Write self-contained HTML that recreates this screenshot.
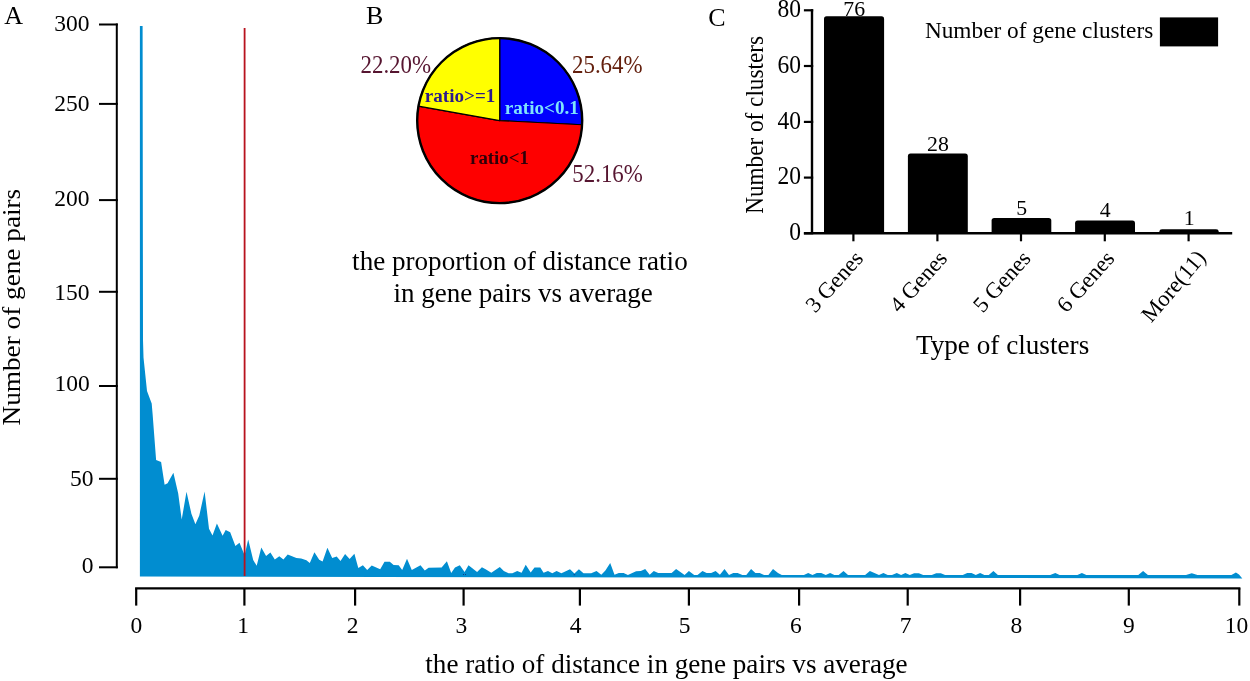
<!DOCTYPE html>
<html lang="en"><head><meta charset="utf-8"><title>Figure: distance ratio in gene pairs and gene clusters</title>
<style>html,body{margin:0;padding:0;background:#fff;}body{width:1250px;height:681px;overflow:hidden;}svg{display:block;will-change:transform;}text{font-family:"Liberation Serif", serif;fill:#000;}</style></head><body>
<svg width="1250" height="681" viewBox="0 0 1250 681">
<rect width="1250" height="681" fill="#fff"/>
<g id="panelA">
<text x="4.3" y="23.9" font-size="26">A</text>
<polygon points="139.9,576.5 139.9,26.0 142.6,26.0 143.0,340.0 143.5,357.6 147.0,391.1 151.7,403.4 152.6,414.0 156.1,460.0 161.1,462.1 164.6,484.7 167.6,483.3 173.4,472.7 178.2,493.5 181.7,519.6 186.5,491.7 191.4,513.7 195.4,524.3 199.3,515.5 204.6,491.4 209.0,528.7 212.5,535.4 216.9,523.4 222.6,535.8 225.7,530.1 230.2,532.2 235.4,546.0 239.5,542.8 244.6,555.2 248.2,539.4 253.2,560.0 256.7,565.8 261.3,547.6 266.1,555.9 270.4,552.4 274.8,559.4 279.3,556.2 283.4,559.4 287.7,554.5 296.4,558.1 301.2,558.4 306.4,560.2 309.8,562.9 314.4,552.2 319.2,559.8 322.6,561.5 327.4,547.8 332.2,558.1 336.7,556.4 340.5,561.0 345.1,554.1 349.6,559.1 354.4,553.8 358.3,568.0 362.9,565.3 367.2,570.1 371.7,565.5 380.2,569.2 384.5,561.7 389.8,561.7 393.6,565.0 398.7,565.3 402.2,570.1 407.0,558.8 411.8,570.1 420.5,565.3 424.8,570.6 428.6,567.7 441.6,567.5 446.9,561.3 451.2,573.0 455.0,567.5 459.8,565.3 464.6,572.0 468.5,565.3 477.1,572.0 481.9,567.2 485.6,569.2 491.3,572.8 499.8,567.0 503.8,571.1 508.6,573.2 512.4,573.2 517.2,571.1 521.6,572.8 525.7,564.8 530.7,572.5 534.5,567.4 540.3,567.4 543.6,572.8 548.0,571.1 552.3,573.2 556.6,571.1 561.4,573.2 570.0,569.2 574.4,573.5 578.9,569.2 583.5,573.2 591.2,573.2 596.5,571.1 601.3,574.7 605.4,570.6 610.2,562.9 614.5,574.7 618.8,573.0 623.6,573.0 627.9,574.9 636.1,571.3 640.9,570.9 645.2,569.0 649.7,574.7 653.8,571.1 658.2,573.0 671.6,573.0 676.1,569.0 684.6,574.9 688.9,570.9 694.2,574.9 697.5,574.9 702.5,571.1 706.6,573.0 711.2,573.0 715.6,571.1 719.9,574.7 724.5,568.9 729.0,574.9 733.3,573.0 737.6,573.0 742.4,574.9 746.3,574.9 751.1,568.9 755.4,573.0 759.7,573.0 764.0,574.9 768.4,574.9 773.0,568.9 778.0,573.0 781.8,574.9 803.9,574.9 808.2,573.0 812.5,574.9 816.8,573.0 821.2,573.0 825.8,574.9 830.1,573.0 834.4,574.9 838.7,574.9 843.5,571.1 848.0,574.9 865.1,574.9 869.9,571.1 879.0,574.9 883.4,573.0 887.7,574.9 892.0,574.9 896.8,573.0 901.1,574.9 905.4,573.0 909.8,574.9 914.1,573.2 918.9,573.2 923.2,574.9 931.8,574.9 936.2,573.2 940.8,573.2 945.1,574.9 962.8,574.9 967.2,573.0 971.5,573.0 975.8,574.9 980.1,573.0 984.4,574.9 988.8,574.9 993.4,571.1 997.9,574.9 1050.2,574.9 1055.3,573.0 1059.6,574.9 1077.4,574.9 1081.9,573.0 1086.3,574.9 1138.3,574.9 1143.1,571.1 1147.9,574.9 1186.0,574.9 1191.8,573.3 1197.5,574.9 1231.4,574.9 1235.9,572.4 1239.0,574.6 1242.3,578.4 700.0,577.5" fill="#018dd0"/>
<line x1="244.6" y1="28.0" x2="244.6" y2="576" stroke="#b8131e" stroke-width="1.8"/>
<path d="M463,574h1v1h-1z M465,574h1v1h-1z M573.6,574.2h1.6v1h-1.6z" fill="#0a3f86"/>
<path d="M116.8,23.5 V568.3" stroke="#000" stroke-width="2.0" fill="none"/>
<line x1="99.0" y1="24.5" x2="117.8" y2="24.5" stroke="#000" stroke-width="2.0"/>
<text x="89.5" y="31.2" font-size="23.5" text-anchor="end">300</text>
<line x1="99.0" y1="103.9" x2="117.8" y2="103.9" stroke="#000" stroke-width="2.0"/>
<text x="89.5" y="111.1" font-size="23.5" text-anchor="end">250</text>
<line x1="99.0" y1="200.1" x2="117.8" y2="200.1" stroke="#000" stroke-width="2.0"/>
<text x="89.5" y="206.1" font-size="23.5" text-anchor="end">200</text>
<line x1="99.0" y1="291.8" x2="117.8" y2="291.8" stroke="#000" stroke-width="2.0"/>
<text x="89.5" y="299.6" font-size="23.5" text-anchor="end">150</text>
<line x1="99.0" y1="386.0" x2="117.8" y2="386.0" stroke="#000" stroke-width="2.0"/>
<text x="89.8" y="390.7" font-size="23.5" text-anchor="end">100</text>
<line x1="99.0" y1="478.8" x2="117.8" y2="478.8" stroke="#000" stroke-width="2.0"/>
<text x="93.4" y="485.5" font-size="23.5" text-anchor="end">50</text>
<line x1="99.0" y1="567.3" x2="117.8" y2="567.3" stroke="#000" stroke-width="2.0"/>
<text x="93.4" y="572.6" font-size="23.5" text-anchor="end">0</text>
<path d="M135.1,588.3 H1240.3999999999999" stroke="#000" stroke-width="2.2" fill="none"/>
<line x1="136.2" y1="588.3" x2="136.2" y2="605.6" stroke="#000" stroke-width="2.2"/>
<text x="136.4" y="632.8" font-size="23.5" text-anchor="middle">0</text>
<line x1="244.4" y1="588.3" x2="244.4" y2="605.6" stroke="#000" stroke-width="2.2"/>
<text x="243.0" y="632.8" font-size="23.5" text-anchor="middle">1</text>
<line x1="355.1" y1="588.3" x2="355.1" y2="605.6" stroke="#000" stroke-width="2.2"/>
<text x="352.6" y="632.8" font-size="23.5" text-anchor="middle">2</text>
<line x1="463.6" y1="588.3" x2="463.6" y2="605.6" stroke="#000" stroke-width="2.2"/>
<text x="461.3" y="632.8" font-size="23.5" text-anchor="middle">3</text>
<line x1="579.9" y1="588.3" x2="579.9" y2="605.6" stroke="#000" stroke-width="2.2"/>
<text x="575.6" y="632.8" font-size="23.5" text-anchor="middle">4</text>
<line x1="688.9" y1="588.3" x2="688.9" y2="605.6" stroke="#000" stroke-width="2.2"/>
<text x="684.7" y="632.8" font-size="23.5" text-anchor="middle">5</text>
<line x1="799.1" y1="588.3" x2="799.1" y2="605.6" stroke="#000" stroke-width="2.2"/>
<text x="795.9" y="632.8" font-size="23.5" text-anchor="middle">6</text>
<line x1="907.7" y1="588.3" x2="907.7" y2="605.6" stroke="#000" stroke-width="2.2"/>
<text x="905.6" y="632.8" font-size="23.5" text-anchor="middle">7</text>
<line x1="1020.1" y1="588.3" x2="1020.1" y2="605.6" stroke="#000" stroke-width="2.2"/>
<text x="1016.3" y="632.8" font-size="23.5" text-anchor="middle">8</text>
<line x1="1128.8" y1="588.3" x2="1128.8" y2="605.6" stroke="#000" stroke-width="2.2"/>
<text x="1128.8" y="632.8" font-size="23.5" text-anchor="middle">9</text>
<line x1="1239.3" y1="588.3" x2="1239.3" y2="605.6" stroke="#000" stroke-width="2.2"/>
<text x="1236.4" y="632.8" font-size="23.5" text-anchor="middle">10</text>
<text x="425.3" y="673.0" font-size="27.15">the ratio of distance in gene pairs vs average</text>
<text transform="translate(20.0,425.5) rotate(-90) scale(1,0.95)" font-size="27.25">Number of gene pairs</text>
</g>
<g id="panelB">
<text x="366" y="24.1" font-size="26">B</text>
<path d="M499.7,120.6 L499.70,38.10 A82.5,82.5 0 0 1 582.10,124.75 Z" fill="#0000fe" stroke="#000" stroke-width="1.2" stroke-linejoin="round"/>
<path d="M499.7,120.6 L582.10,124.75 A82.5,82.5 0 1 1 418.47,106.16 Z" fill="#fe0000" stroke="#000" stroke-width="1.2" stroke-linejoin="round"/>
<path d="M499.7,120.6 L418.47,106.16 A82.5,82.5 0 0 1 499.70,38.10 Z" fill="#ffff00" stroke="#000" stroke-width="1.2" stroke-linejoin="round"/>
<circle cx="499.7" cy="120.6" r="82.5" fill="none" stroke="#000" stroke-width="2.4"/>
<text x="424.8" y="101.9" font-size="19.1" font-weight="bold" style="fill:#2b1a8c">ratio&gt;=1</text>
<text x="504.8" y="113.6" font-size="19.1" font-weight="bold" style="fill:#7fe4fb">ratio&lt;0.1</text>
<text x="470.0" y="163.6" font-size="18.9" font-weight="bold" style="fill:#2e0009">ratio&lt;1</text>
<text transform="translate(360.5,73.0) scale(0.905,1)" font-size="25.3" style="fill:#561530">22.20%</text>
<text transform="translate(572.0,73.0) scale(0.905,1)" font-size="25.3" style="fill:#64200e">25.64%</text>
<text transform="translate(572.3,182.1) scale(0.905,1)" font-size="25.3" style="fill:#561530">52.16%</text>
<text x="519.9" y="269.9" font-size="27.1" text-anchor="middle">the proportion of distance ratio</text>
<text x="523.1" y="302" font-size="27" text-anchor="middle">in gene pairs vs average</text>
</g>
<g id="panelC">
<text x="708.3" y="26" font-size="26">C</text>
<path d="M812.0,9.2 V233.3" stroke="#000" stroke-width="2.4" fill="none"/>
<line x1="803.9" y1="10.3" x2="813.2" y2="10.3" stroke="#000" stroke-width="2.2"/>
<text transform="translate(800.9,17.1) scale(0.96,1)" font-size="24.5" text-anchor="end">80</text>
<line x1="803.9" y1="66.0" x2="813.2" y2="66.0" stroke="#000" stroke-width="2.2"/>
<text transform="translate(800.9,72.8) scale(0.96,1)" font-size="24.5" text-anchor="end">60</text>
<line x1="803.9" y1="121.9" x2="813.2" y2="121.9" stroke="#000" stroke-width="2.2"/>
<text transform="translate(800.9,128.7) scale(0.96,1)" font-size="24.5" text-anchor="end">40</text>
<line x1="803.9" y1="177.6" x2="813.2" y2="177.6" stroke="#000" stroke-width="2.2"/>
<text transform="translate(800.9,184.4) scale(0.96,1)" font-size="24.5" text-anchor="end">20</text>
<line x1="803.9" y1="233.3" x2="813.2" y2="233.3" stroke="#000" stroke-width="2.2"/>
<text transform="translate(800.9,240.1) scale(0.96,1)" font-size="24.5" text-anchor="end">0</text>
<path d="M803.9,233.3 H1232.2" stroke="#000" stroke-width="2.6" fill="none"/>
<rect x="824.0" y="16.3" width="60.1" height="217.5" rx="2.6" fill="#000"/>
<text x="854.2" y="15.8" font-size="21.8" text-anchor="middle">76</text>
<line x1="853.4" y1="233.3" x2="853.4" y2="241.3" stroke="#000" stroke-width="2.2"/>
<text transform="translate(864.3,259.3) rotate(-48)" font-size="22.6" text-anchor="end">3 Genes</text>
<rect x="907.9" y="153.6" width="59.9" height="80.2" rx="2.6" fill="#000"/>
<text x="938.0" y="151.3" font-size="21.8" text-anchor="middle">28</text>
<line x1="937.4" y1="233.3" x2="937.4" y2="241.3" stroke="#000" stroke-width="2.2"/>
<text transform="translate(948.3,259.3) rotate(-48)" font-size="22.6" text-anchor="end">4 Genes</text>
<rect x="991.6" y="217.9" width="59.7" height="15.9" rx="2.6" fill="#000"/>
<text x="1021.7" y="215.4" font-size="21.8" text-anchor="middle">5</text>
<line x1="1021.0" y1="233.3" x2="1021.0" y2="241.3" stroke="#000" stroke-width="2.2"/>
<text transform="translate(1031.9,259.3) rotate(-48)" font-size="22.6" text-anchor="end">5 Genes</text>
<rect x="1075.1" y="220.6" width="59.9" height="13.2" rx="2.6" fill="#000"/>
<text x="1105.2" y="216.9" font-size="21.8" text-anchor="middle">4</text>
<line x1="1104.8" y1="233.3" x2="1104.8" y2="241.3" stroke="#000" stroke-width="2.2"/>
<text transform="translate(1115.7,259.3) rotate(-48)" font-size="22.6" text-anchor="end">6 Genes</text>
<rect x="1159.4" y="229.3" width="59.3" height="4.5" rx="2.6" fill="#000"/>
<text x="1189.3" y="225.2" font-size="21.8" text-anchor="middle">1</text>
<line x1="1188.6" y1="233.3" x2="1188.6" y2="241.3" stroke="#000" stroke-width="2.2"/>
<text transform="translate(1207.0,258.3) rotate(-49.5)" font-size="22.6" text-anchor="end">More(11)</text>
<text x="924.9" y="37.8" font-size="23.3">Number of gene clusters</text>
<rect x="1159.9" y="17.4" width="58.2" height="29" fill="#000"/>
<text transform="translate(763.4,213.8) rotate(-90) scale(1,1.07)" font-size="23.2">Number of clusters</text>
<text x="1002.6" y="353.6" font-size="27.2" text-anchor="middle">Type of clusters</text>
</g>
</svg></body></html>
